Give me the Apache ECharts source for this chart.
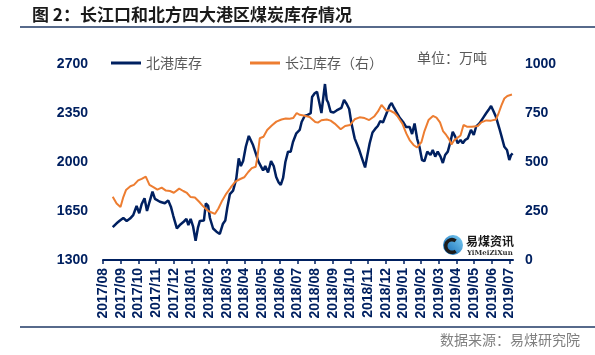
<!DOCTYPE html>
<html>
<head>
<meta charset="utf-8">
<script src="https://cdn.jsdelivr.net/npm/echarts@6/dist/echarts.min.js"></script>
<style>
html,body{margin:0;padding:0;background:#fff;}
#chart{width:595px;height:355px;}
</style>
</head>
<body>
<div id="chart"></div>
<script>
// Month tick labels (x position 0 = 2017/08 ... 23 = 2019/07)
var months = ['2017/08','2017/09','2017/10','2017/11','2017/12','2018/01','2018/02','2018/03','2018/04','2018/05','2018/06','2018/07','2018/08','2018/09','2018/10','2018/11','2018/12','2019/01','2019/02','2019/03','2019/04','2019/05','2019/06','2019/07'];
var leftTicks = [1300, 1650, 2000, 2350, 2700];
var rightTicks = [0, 250, 500, 750, 1000];

// 北港库存 (left axis), position in months from 2017/08
var northPos = [
  0.55,0.77,0.96,1.15,1.34,1.53,1.71,1.90,2.05,2.19,
  2.35,2.49,2.63,2.80,2.94,3.22,3.50,3.69,3.84,3.98,
  4.18,4.38,4.58,4.72,4.83,4.96,5.10,5.24,5.37,5.48,
  5.71,5.82,5.95,6.05,6.23,6.42,6.61,6.78,6.92,7.03,
  7.18,7.36,7.54,7.68,7.80,7.93,8.08,8.25,8.35,8.49,
  8.64,8.79,8.93,9.06,9.18,9.34,9.51,9.66,9.80,9.94,
  10.06,10.19,10.32,10.47,10.62,10.75,10.94,11.13,11.24,11.41,
  11.58,11.75,11.83,11.98,12.11,12.22,12.36,12.56,12.66,12.74,
  12.88,13.05,13.22,13.49,13.64,13.79,13.93,14.05,14.24,14.48,
  14.67,14.83,14.94,15.09,15.25,15.40,15.55,15.69,15.84,16.03,
  16.22,16.33,16.47,16.61,16.78,16.97,17.15,17.35,17.49,17.63,
  17.78,17.91,18.05,18.19,18.35,18.53,18.66,18.80,18.94,19.10,
  19.23,19.36,19.51,19.66,19.79,19.93,20.07,20.23,20.36,20.49,
  20.64,20.82,20.98,21.11,21.30,21.49,21.68,21.81,21.96,22.11,
  22.24,22.43,22.56,22.71,22.86,22.99,23.09,23.18
];
var northVal = [
  1534,1562,1582,1600,1579,1596,1621,1686,1634,1700,
  1741,1650,1714,1788,1736,1716,1705,1726,1681,1614,
  1526,1554,1575,1593,1550,1593,1538,1438,1529,1579,
  1582,1704,1686,1600,1525,1502,1486,1557,1582,1671,
  1771,1796,1879,2026,1971,2007,2109,2186,2193,2121,
  2064,2004,1971,1939,1971,1925,2007,1971,1893,1854,
  1836,1886,2000,2074,2074,2143,2205,2229,2286,2329,
  2336,2348,2464,2491,2502,2436,2350,2557,2443,2425,
  2359,2354,2368,2386,2443,2414,2379,2282,2169,2093,
  2021,1961,2036,2134,2211,2236,2257,2293,2282,2343,
  2404,2421,2386,2354,2318,2288,2250,2250,2200,2275,
  2164,2107,2014,2007,2074,2050,2086,2038,2074,2038,
  1993,2050,2074,2145,2216,2181,2134,2157,2134,2157,
  2169,2229,2193,2252,2276,2312,2348,2371,2400,2359,
  2321,2239,2179,2109,2086,2014,2050,2062
];

// 长江库存 (right axis)
var yangtzePos = [
  0.55,0.77,0.99,1.15,1.30,1.55,1.75,1.99,2.19,2.42,
  2.63,2.85,3.08,3.32,3.56,3.79,4.01,4.31,4.54,4.75,
  4.96,5.20,5.44,5.67,5.86,6.05,6.33,6.53,6.75,6.98,
  7.23,7.49,7.74,7.99,8.22,8.42,8.64,8.73,8.87,9.08,
  9.29,9.55,9.81,10.10,10.34,10.56,10.76,10.96,11.13,11.41,
  11.69,12.01,12.16,12.36,12.66,12.88,13.11,13.45,13.70,13.98,
  14.24,14.52,14.80,15.06,15.34,15.56,15.76,16.02,16.22,16.50,
  16.68,16.94,17.16,17.35,17.57,17.77,17.88,18.02,18.19,18.42,
  18.67,18.87,19.07,19.24,19.42,19.58,19.72,19.86,20.03,20.23,
  20.40,20.59,20.88,21.21,21.41,21.68,21.96,22.23,22.37,22.54,
  22.71,22.88,23.14
];
var yangtzeVal = [
  323,288,270,321,357,376,383,406,414,425,
  383,372,359,369,354,352,343,364,352,342,
  321,319,297,274,257,246,235,263,304,339,
  370,400,412,422,449,469,476,520,621,629,
  663,686,706,717,722,721,724,750,741,736,
  730,704,701,713,717,711,696,667,684,689,
  718,728,724,714,732,758,791,763,763,750,
  731,696,646,612,587,574,564,602,658,714,
  735,726,702,658,638,617,589,610,622,635,
  689,680,680,684,702,712,711,717,745,788,
  824,837,844
];

function zip(a, b) {
  var out = [];
  var n = Math.min(a.length, b.length);
  for (var i = 0; i < n; i++) out.push([a[i], b[i]]);
  return out;
}
var tickIdx = months.map(function (m, i) { return i; });

var NAVY = '#002060';
var ORANGE = '#ed7d31';
var LAT = '"Liberation Sans", Arial, sans-serif';
var CJK = '"Noto Sans CJK SC", sans-serif';
function plain(v) { return String(v); }

var chart = echarts.init(document.getElementById('chart'), null, {renderer: 'canvas'});
chart.setOption({
  animation: false,
  backgroundColor: '#fff',
  grid: {left: 103, right: 82, top: 64, bottom: 95},
  legend: {
    left: 106, top: 51,
    icon: 'rect', itemWidth: 30, itemHeight: 3, itemGap: 48,
    textStyle: {fontSize: 14, color: '#595959', fontFamily: CJK},
    data: ['北港库存', '长江库存（右）']
  },
  xAxis: {
    type: 'value', min: 0, max: 23.2,
    axisLine: {show: true, onZero: false, lineStyle: {color: NAVY, width: 2}},
    axisTick: {show: true, length: 4, customValues: tickIdx, lineStyle: {color: NAVY, width: 1.5}},
    axisLabel: {
      customValues: tickIdx, rotate: 90, margin: 8,
      color: NAVY, fontSize: 14, fontWeight: 'bold', fontFamily: LAT,
      formatter: function (v) { return months[Math.round(v)] || ''; }
    },
    splitLine: {show: false}
  },
  yAxis: [{
    type: 'value', min: leftTicks[0], max: leftTicks[leftTicks.length - 1], interval: 350,
    axisLine: {show: false}, axisTick: {show: false}, splitLine: {show: false},
    axisLabel: {margin: 15, color: NAVY, fontSize: 14, fontWeight: 'bold', fontFamily: LAT, formatter: plain}
  }, {
    type: 'value', position: 'right', min: rightTicks[0], max: rightTicks[rightTicks.length - 1], interval: 250,
    axisLine: {show: false}, axisTick: {show: false}, splitLine: {show: false},
    axisLabel: {margin: 12, color: NAVY, fontSize: 14, fontWeight: 'bold', fontFamily: LAT, formatter: plain}
  }],
  series: [{
    name: '北港库存', type: 'line', yAxisIndex: 0,
    data: zip(northPos, northVal),
    showSymbol: false, symbol: 'none',
    lineStyle: {color: NAVY, width: 2.5}, itemStyle: {color: NAVY}
  }, {
    name: '长江库存（右）', type: 'line', yAxisIndex: 1,
    data: zip(yangtzePos, yangtzeVal),
    showSymbol: false, symbol: 'none',
    lineStyle: {color: ORANGE, width: 2}, itemStyle: {color: ORANGE}
  }],
  graphic: [
    {type: 'text', left: 32, top: 6, style: {text: '图 2：长江口和北方四大港区煤炭库存情况', font: 'bold 17px "Noto Sans CJK SC", sans-serif', fill: '#1a1a1a'}},
    {type: 'line', shape: {x1: 20, y1: 27, x2: 595, y2: 27}, style: {stroke: '#1f3864', lineWidth: 1.5}},
    {type: 'text', left: 417, top: 51, style: {text: '单位：万吨', font: '14px "Noto Sans CJK SC", sans-serif', fill: '#595959'}},
    {type: 'line', shape: {x1: 20, y1: 327, x2: 595, y2: 327}, style: {stroke: '#1f3864', lineWidth: 1.5}},
    {type: 'text', right: 15, top: 333, style: {text: '数据来源：易煤研究院', font: '14px "Noto Sans CJK SC", sans-serif', fill: '#7f7f7f'}},
    {type: 'circle', shape: {cx: 453, cy: 245, r: 10}, style: {fill: new echarts.graphic.LinearGradient(1, 0, 0, 1, [{offset: 0, color: '#7fd0f5'}, {offset: 1, color: '#0a62b0'}])}},
    {type: 'sector', shape: {cx: 452, cy: 246, r: 8, r0: 4.5, startAngle: Math.PI * 0.3, endAngle: Math.PI * 1.7, clockwise: true}, style: {fill: '#1c1c1c'}},
    {type: 'text', left: 466, top: 235, style: {text: '易煤资讯', font: 'bold 12px "Noto Sans CJK SC", sans-serif', fill: '#1a1a1a'}},
    {type: 'text', left: 467, top: 250, style: {text: 'YiMeiZiXun', font: 'bold 7px "DejaVu Serif", serif', fill: '#333'}}
  ]
});
</script>
</body>
</html>
